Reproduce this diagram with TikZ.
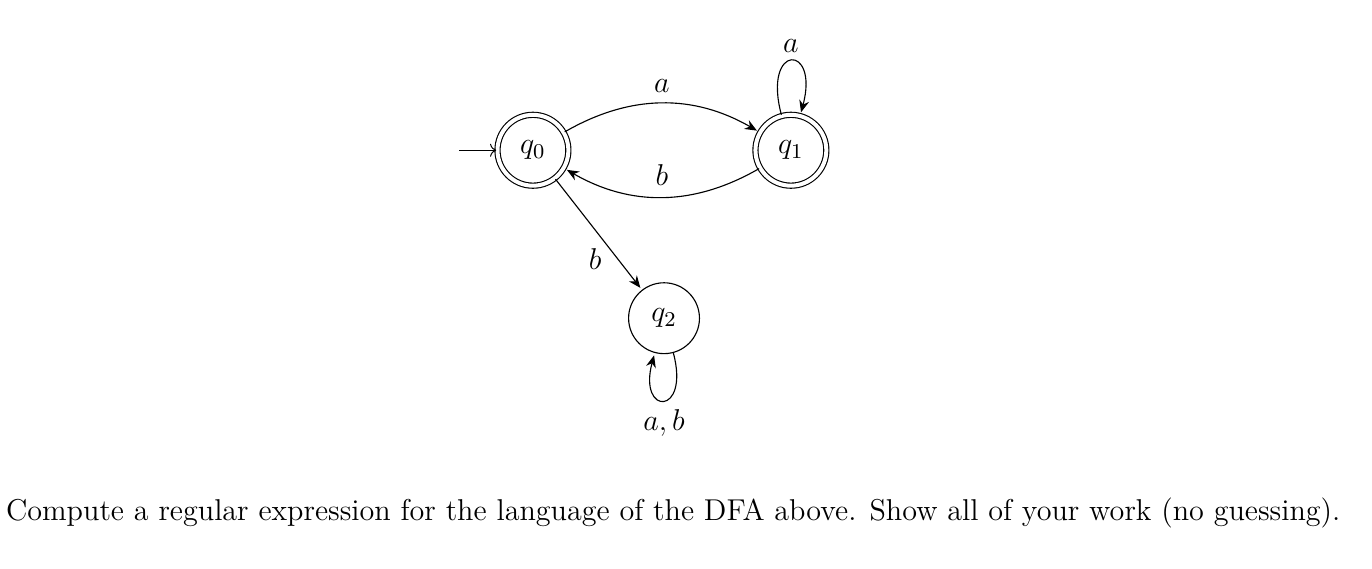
\RequirePackage{fix-cm}
\documentclass[tikz,border=0pt]{standalone}
\usepackage{tikz}
\usetikzlibrary{arrows.meta,automata}
\tikzset{
  dfa state/.style={state, minimum size=1.0cm, inner sep=0pt, line width=0.45pt},
  dfa accept/.style={dfa state, accepting, double distance=1.6pt},
  dfa arr/.style={-{Stealth[length=1.7mm,width=1.4mm]}, line width=0.45pt, shorten >=1pt}
}

\begin{document}
\begin{tikzpicture}[font=\fontsize{12.1}{15}\selectfont]
  \useasboundingbox (0,0) rectangle (19.36,-8.015);

  \node[dfa accept, initial, initial text={}, initial distance=0.52cm,
    initial where=left, every initial by arrow/.style={dfa arr}]
    (q0) at (7.52,-2.12) {$q_0$};
  \node[dfa accept] (q1) at (11.16,-2.12) {$q_1$};
  \node[dfa state] (q2) at (9.37,-4.49) {$q_2$};

  \draw[dfa arr] (q0) to[bend left=30] node[above=1pt] {$a$} (q1);
  \draw[dfa arr] (q1) to[bend left=30] node[above=1pt] {$b$} (q0);
  \draw[dfa arr] (q0) -- node[pos=0.72, left=3pt] {$b$} (q2);
  \draw[dfa arr] (q1) to[loop above, looseness=10] node[above] {$a$} (q1);
  \draw[dfa arr] (q2) to[loop below, looseness=9] node[below] {$a,b$} (q2);

  \node[anchor=base] (task) at (9.50,-7.34)
    {Compute a regular expression for the language of the DFA above. Show all of your work (no guessing).};
\end{tikzpicture}
\end{document}
